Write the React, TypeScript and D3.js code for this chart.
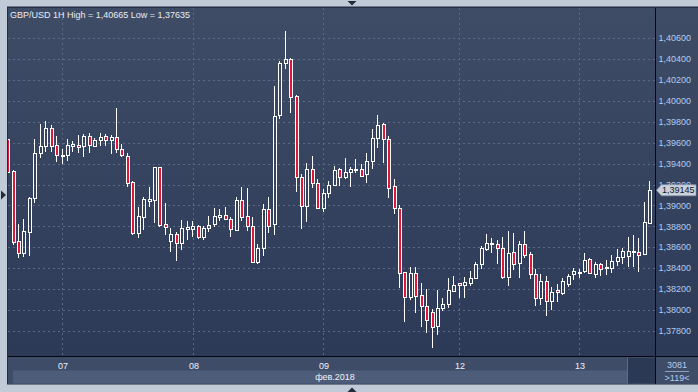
import * as d3 from "d3";

const symbol = "GBP/USD";
const timeframe = "1H";

// hourly bars, left to right
const opens = [
  1.39632, 1.39329, 1.3866, 1.38543, 1.38749, 1.39071, 1.39498, 1.39568, 1.39737, 1.39578,
  1.39472, 1.39479, 1.39568, 1.39575, 1.39571, 1.39664, 1.39571, 1.39622, 1.39664, 1.39622,
  1.39651, 1.39536, 1.39475, 1.39224, 1.38739, 1.38892, 1.39047, 1.39052, 1.39364, 1.3882,
  1.38663, 1.38724, 1.38644, 1.38778, 1.38778, 1.38803, 1.38701, 1.38781, 1.3882, 1.38887,
  1.38909, 1.38867, 1.38765, 1.39052, 1.38899, 1.38803, 1.38462, 1.3859, 1.38963, 1.3882,
  1.39864, 1.40364, 1.40396, 1.40046, 1.39269, 1.38997, 1.39345, 1.39212, 1.38973, 1.39116,
  1.39195, 1.39345, 1.39275, 1.39322, 1.39339, 1.39345, 1.39298, 1.39425, 1.39642, 1.39778,
  1.39632, 1.39186, 1.38973, 1.38361, 1.38128, 1.38351, 1.38144, 1.38042, 1.37985, 1.37848,
  1.38017, 1.38055, 1.38185, 1.38256, 1.38237, 1.38262, 1.38304, 1.38437, 1.38581, 1.38631,
  1.38629, 1.3859, 1.38319, 1.38552, 1.38447, 1.38629, 1.38533, 1.38342, 1.38113, 1.38278,
  1.38087, 1.38192, 1.3816, 1.38249, 1.38342, 1.38357, 1.38373, 1.38485, 1.38345, 1.38437,
  1.38399, 1.38405, 1.38472, 1.3851, 1.38517, 1.38558, 1.38555, 1.38533, 1.38829,
];
const highs = [
  1.39644, 1.39339, 1.38823, 1.3887, 1.39078, 1.39635, 1.39775, 1.39807, 1.39769, 1.39664,
  1.39539, 1.39635, 1.39616, 1.39673, 1.39683, 1.39689, 1.39647, 1.39689, 1.3968, 1.39673,
  1.39931, 1.39587, 1.39498, 1.39236, 1.38988, 1.39078, 1.39173, 1.3937, 1.3937, 1.39026,
  1.38781, 1.38749, 1.38861, 1.38851, 1.38851, 1.38813, 1.38803, 1.38899, 1.38973, 1.38963,
  1.38982, 1.38892, 1.39078, 1.39179, 1.39164, 1.38892, 1.38631, 1.39014, 1.39078, 1.40144,
  1.4038, 1.40665, 1.40406, 1.40055, 1.393, 1.39403, 1.39472, 1.3925, 1.39154, 1.39233,
  1.3938, 1.39353, 1.3945, 1.3937, 1.39444, 1.39396, 1.39504, 1.3973, 1.39864, 1.39791,
  1.39664, 1.39253, 1.39004, 1.38367, 1.38409, 1.38409, 1.38262, 1.38199, 1.38007, 1.38192,
  1.38113, 1.38304, 1.38326, 1.38259, 1.38313, 1.38376, 1.38457, 1.38612, 1.38724, 1.38692,
  1.3867, 1.38701, 1.38756, 1.38734, 1.3866, 1.38756, 1.38552, 1.38393, 1.38342, 1.38326,
  1.38223, 1.38246, 1.38304, 1.38342, 1.38399, 1.38393, 1.38548, 1.38501, 1.38462, 1.38453,
  1.38479, 1.38526, 1.38581, 1.38596, 1.38695, 1.38717, 1.38686, 1.39036, 1.39233,
];
const lows = [
  1.3931, 1.38622, 1.38498, 1.3851, 1.38517, 1.39026, 1.39456, 1.39513, 1.39513, 1.39418,
  1.39396, 1.39427, 1.39513, 1.39498, 1.39466, 1.39504, 1.39565, 1.39571, 1.39568, 1.39489,
  1.39498, 1.3946, 1.39179, 1.38717, 1.38692, 1.38765, 1.38988, 1.38835, 1.38797, 1.38717,
  1.38552, 1.38472, 1.38574, 1.3867, 1.38695, 1.38679, 1.3867, 1.38743, 1.38797, 1.38848,
  1.38861, 1.38701, 1.38756, 1.38851, 1.38759, 1.38455, 1.3844, 1.38517, 1.38734, 1.38717,
  1.39826, 1.40301, 1.39886, 1.39131, 1.38772, 1.38845, 1.39169, 1.38963, 1.3894, 1.39074,
  1.39186, 1.39186, 1.39253, 1.39179, 1.39313, 1.39275, 1.39217, 1.39345, 1.39552, 1.39403,
  1.39068, 1.38915, 1.38208, 1.37889, 1.38096, 1.37969, 1.37841, 1.37781, 1.37635, 1.37762,
  1.37994, 1.38017, 1.38176, 1.38118, 1.38118, 1.3823, 1.38294, 1.3839, 1.38565, 1.38548,
  1.3844, 1.38297, 1.38233, 1.38383, 1.38309, 1.38495, 1.38294, 1.38042, 1.38049, 1.37946,
  1.38001, 1.3808, 1.38144, 1.38223, 1.38287, 1.38304, 1.38357, 1.38345, 1.38304, 1.38326,
  1.38335, 1.38357, 1.38424, 1.3844, 1.38409, 1.38415, 1.38367, 1.38526, 1.3882,
];
const closes = [
  1.39322, 1.38653, 1.38548, 1.38756, 1.39068, 1.39501, 1.39568, 1.39743, 1.39571, 1.39482,
  1.39482, 1.39578, 1.39584, 1.39556, 1.39666, 1.39575, 1.39622, 1.39651, 1.39625, 1.39657,
  1.39536, 1.39479, 1.39212, 1.38739, 1.38899, 1.39059, 1.39057, 1.39364, 1.38816, 1.38791,
  1.38724, 1.38644, 1.38781, 1.38791, 1.38803, 1.38701, 1.38781, 1.38813, 1.38899, 1.38909,
  1.38867, 1.38772, 1.39052, 1.38892, 1.38803, 1.38462, 1.3859, 1.38963, 1.38803, 1.39858,
  1.40364, 1.40396, 1.40033, 1.39269, 1.38997, 1.39345, 1.39212, 1.38973, 1.39116, 1.39195,
  1.39339, 1.39275, 1.39317, 1.39348, 1.39345, 1.39284, 1.39425, 1.39642, 1.39769, 1.39632,
  1.39169, 1.38973, 1.38351, 1.38128, 1.38351, 1.38137, 1.38042, 1.37905, 1.37841, 1.38017,
  1.38058, 1.38192, 1.3824, 1.38237, 1.38268, 1.38304, 1.38437, 1.3859, 1.38638, 1.38641,
  1.3859, 1.38319, 1.38548, 1.3844, 1.38631, 1.38526, 1.38342, 1.38113, 1.38281, 1.38087,
  1.38176, 1.3817, 1.38278, 1.38326, 1.38373, 1.38367, 1.38479, 1.38351, 1.3844, 1.3839,
  1.38415, 1.38472, 1.3851, 1.38565, 1.38567, 1.38565, 1.38526, 1.38839, 1.39145,
];

const dayLabels = ["07", "08", "09", "12", "13"];
const dayStartBars = [10, 34, 58, 83, 105];
const monthLabel = "фев.2018";
const priceTicks = [
  1.378, 1.38, 1.382, 1.384, 1.386, 1.388, 1.39, 1.392, 1.394, 1.396, 1.398, 1.4, 1.402,
  1.404, 1.406,
];
const totalBars = 3081;
const markerPrice = 1.391;

const W = 698;
const H = 392;
const plotL = 8;
const plotT = 8;
const plotR = 655;
const plotB = 356;
const font = "'Liberation Sans', Arial, sans-serif";

const fmt = (v: number) => d3.format(".5f")(v).replace(".", ",");

export default function App() {
  const n = closes.length;
  const x = d3.scaleLinear().domain([0, n - 1]).range([8.6, 650.8]);
  const y = d3.scaleLinear().domain([1.378, 1.406]).range([331, 38]);
  const hi = d3.max(highs) as number;
  const lo = d3.min(lows) as number;
  const last = closes[n - 1];
  const yLast = y(last);
  const yMark = y(markerPrice);

  const bars = d3.range(n).map((i) => {
    const c = Math.floor(x(i));
    const o = opens[i];
    const cl = closes[i];
    const top = Math.round(y(Math.max(o, cl))) + 0.5;
    const bot = Math.round(y(Math.min(o, cl))) + 0.5;
    return {
      i,
      c,
      up: cl >= o,
      top,
      h: Math.max(bot - top, 1),
      wy1: Math.round(y(highs[i])),
      wy2: Math.round(y(lows[i])),
    };
  });

  return (
    <svg
      width={W}
      height={H}
      style={{ position: "absolute", left: 0, top: 0, display: "block" }}
      fontFamily={font}
    >
      <defs>
        <linearGradient id="bg" x1="0" y1="0" x2="0" y2="1">
          <stop offset="0" stopColor="#3f4c66" />
          <stop offset="1" stopColor="#2c3a58" />
        </linearGradient>
        <clipPath id="plotClip">
          <rect x={plotL} y={plotT} width={plotR - plotL} height={plotB - plotT} />
        </clipPath>
      </defs>

      {/* frame */}
      <rect width={W} height={H} fill="#c1cad7" />
      <rect x={7} y={6.5} width={W - 7} height={378} fill="#252e42" />
      <rect x={plotL} y={plotT} width={W - plotL} height={plotB - plotT} fill="url(#bg)" />

      {/* grid */}
      <g stroke="#5d6a87" strokeWidth={1} strokeDasharray="2,3">
        {priceTicks.map((t) => (
          <line key={t} x1={plotL} x2={plotR} y1={Math.round(y(t)) + 0.5} y2={Math.round(y(t)) + 0.5} />
        ))}
        {dayStartBars.map((b) => (
          <line key={b} x1={Math.round(x(b)) - 0.5} x2={Math.round(x(b)) - 0.5} y1={plotT} y2={plotB} />
        ))}
      </g>

      {/* candles: wick above and below the body, hollow up bars */}
      <g clipPath="url(#plotClip)">
        {bars.map((b) => (
          <g key={b.i}>
            <line x1={b.c - 0.5} x2={b.c - 0.5} y1={b.wy1} y2={b.top} stroke="#ffffff" />
            <line x1={b.c - 0.5} x2={b.c - 0.5} y1={b.top + b.h} y2={b.wy2} stroke="#ffffff" />
            <rect
              x={b.c - 1.5}
              y={b.top}
              width={3}
              height={b.h}
              fill={b.up ? "none" : "#e0163b"}
              stroke="#ffffff"
              strokeWidth={1}
            />
          </g>
        ))}
      </g>

      {/* title */}
      <text x={10} y={18} fontSize={9} fill="#e9edf4">
        {`${symbol} ${timeframe} High = ${fmt(hi)} Low = ${fmt(lo)}`}
      </text>

      {/* price axis */}
      {priceTicks.map((t) => (
        <text key={t} x={658.5} y={y(t)} dy="0.35em" fontSize={9} fill="#b3cbed">
          {fmt(t)}
        </text>
      ))}
      <path
        d={`M656.5,${yLast} L661.5,${yLast - 5.5} L696,${yLast - 5.5} L696,${yLast + 5.5} L661.5,${yLast + 5.5} Z`}
        fill="#c9d1dd"
        stroke="#8d99ad"
        strokeWidth={0.6}
      />
      <text x={662} y={yLast} dy="0.35em" fontSize={9} fill="#141a27">
        {fmt(last)}
      </text>

      {/* time axis */}
      <rect x={plotL} y={plotB + 1} width={W - plotL} height={27} fill="#3e4c68" />
      <rect x={13} y={370.5} width={615} height={13} fill="#4d5c79" />
      <rect x={628} y={358} width={27} height={25.5} fill="#2c3955" />
      <line x1={627.5} x2={627.5} y1={358} y2={383.5} stroke="#5d6b87" />
      {dayLabels.map((d, k) => (
        <text
          key={d}
          x={Math.round(x(dayStartBars[k]))}
          y={369}
          fontSize={9}
          fill="#eef2f8"
          textAnchor="middle"
        >
          {d}
        </text>
      ))}
      <text x={335} y={379.5} fontSize={9} fill="#eef2f8" textAnchor="middle">
        {monthLabel}
      </text>
      <text x={677} y={367.5} fontSize={9} fill="#b3cbed" textAnchor="middle">
        {totalBars}
      </text>
      <line x1={665} x2={689} y1={371.5} y2={371.5} stroke="#8ea2c1" />
      <text x={677} y={381} fontSize={9} fill="#b3cbed" textAnchor="middle">
        {`>${n}<`}
      </text>

      {/* separators */}
      <line x1={plotR + 0.5} x2={plotR + 0.5} y1={plotT} y2={384} stroke="#05080e" />
      <line x1={plotL} x2={W} y1={plotB + 0.5} y2={plotB + 0.5} stroke="#05080e" />

      {/* scroll markers */}
      <path d="M347.5,1 L356.5,1 L352,5.5 Z" fill="#222b3e" />
      <path d="M347.5,392 L356.5,392 L352,387.5 Z" fill="#222b3e" />
      <path d={`M1,${yMark - 4.5} L6,${yMark} L1,${yMark + 4.5} Z`} fill="#222b3e" />
    </svg>
  );
}
